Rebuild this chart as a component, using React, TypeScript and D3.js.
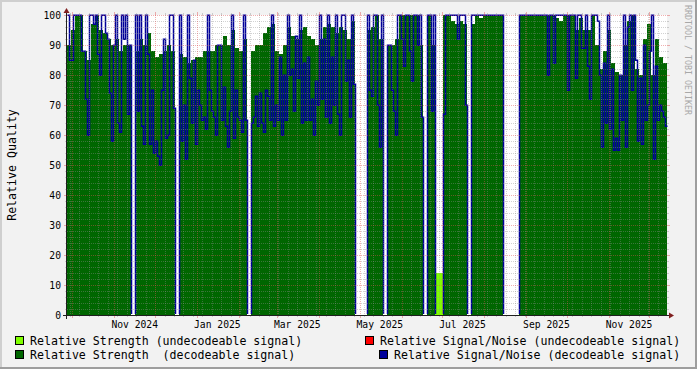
import React from 'react';
import * as d3 from 'd3';

// ---- data (one value per ~2.95-day bin, 150 bins from 2024-09-27 to 2025-12-14) ----
const strengthDecoded = [
  90, 95, 100, 100, 88, 85, 97, 100, 95, 94,
  92, 90, 92, 88, 90, 90, 0, 88, 92, 90,
  94, 88, 86, 87, 88, 90, 88, 0, 87, 86,
  84, 85, 86, 86, 88, 88, 88, 90, 90, 93,
  90, 95, 89, 88, 92, 0, 88, 90, 90, 94,
  96, 97, 88, 87, 90, 96, 93, 92, 95, 96,
  93, 92, 90, 92, 96, 97, 96, 94, 96, 95,
  92, 98, 0, 0, 0, 95, 96, 100, 92, 0,
  90, 90, 92, 100, 100, 100, 100, 100, 90, 0,
  100, 90, 0, 0, 100, 100, 98, 97, 98, 97,
  0, 97, 100, 99, 100, 100, 100, 100, 100, 0,
  0, 0, 0, 100, 100, 100, 100, 100, 100, 100,
  100, 100, 99, 98, 100, 100, 100, 95, 99, 95,
  95, 100, 90, 82, 88, 95, 84, 81, 80, 90,
  98, 100, 82, 80, 92, 97, 80, 92, 86, 84,
];

const strengthUndecoded = [
  0, 0, 0, 0, 0, 0, 0, 0, 0, 0,
  0, 0, 0, 0, 0, 0, 0, 0, 0, 0,
  0, 0, 0, 0, 0, 0, 0, 0, 0, 0,
  0, 0, 0, 0, 0, 0, 0, 0, 0, 0,
  0, 0, 0, 0, 0, 0, 0, 0, 0, 0,
  0, 0, 0, 0, 0, 0, 0, 0, 0, 0,
  0, 0, 0, 0, 0, 0, 0, 0, 0, 0,
  0, 0, 0, 0, 0, 0, 0, 0, 0, 0,
  0, 0, 0, 0, 0, 0, 0, 0, 0, 0,
  0, 0, 14, 14, 0, 0, 0, 0, 0, 0,
  0, 0, 0, 0, 0, 0, 0, 0, 0, 0,
  0, 0, 0, 0, 0, 0, 0, 0, 0, 0,
  0, 0, 0, 0, 0, 0, 0, 0, 0, 0,
  0, 0, 0, 0, 0, 0, 0, 0, 0, 0,
  0, 0, 0, 0, 0, 0, 0, 0, 0, 0,
];

// two samples per bin
const snrDecoded = [
  100, 85, 85, 100, 100, 100, 100, 88, 88, 72, 60, 100, 100, 97, 100, 87, 80, 100, 100, 94,
  92, 74, 58, 90, 100, 64, 61, 100, 92, 100, 67, 90, 0, 0, 100, 68, 100, 63, 57, 100,
  87, 57, 75, 54, 58, 53, 50, 75, 92, 59, 60, 100, 100, 69, 0, 0, 100, 58, 70, 52,
  100, 79, 64, 85, 57, 75, 70, 65, 66, 62, 100, 75, 68, 66, 60, 90, 90, 65, 76, 63,
  56, 68, 100, 59, 75, 66, 65, 61, 100, 65, 0, 0, 64, 66, 73, 63, 74, 64, 61, 75,
  73, 65, 100, 63, 70, 65, 86, 60, 80, 65, 100, 80, 82, 68, 93, 79, 100, 64, 84, 65,
  86, 65, 72, 60, 78, 70, 100, 72, 92, 66, 100, 64, 86, 70, 100, 67, 60, 100, 100, 78,
  85, 66, 100, 77, 0, 0, 0, 0, 0, 0, 100, 75, 73, 100, 100, 70, 56, 100, 0, 0,
  90, 90, 75, 68, 60, 100, 100, 92, 83, 100, 100, 88, 78, 100, 100, 90, 100, 66, 0, 0,
  100, 100, 68, 100, 0, 0, 0, 0, 67, 100, 100, 100, 100, 100, 100, 92, 100, 100, 100, 70,
  0, 0, 100, 100, 100, 100, 100, 100, 100, 100, 100, 100, 100, 100, 100, 100, 100, 100, 0, 0,
  0, 0, 0, 0, 0, 0, 100, 100, 100, 100, 100, 100, 100, 100, 100, 100, 100, 100, 100, 100,
  80, 100, 100, 84, 100, 100, 100, 100, 100, 100, 75, 100, 100, 100, 79, 100, 100, 89, 89, 100,
  83, 72, 100, 100, 100, 98, 80, 56, 84, 64, 100, 62, 82, 55, 59, 55, 80, 65, 100, 56,
  96, 100, 75, 100, 85, 58, 79, 57, 90, 65, 70, 88, 100, 52, 83, 65, 70, 68, 66, 63,
];

const xLabels = ['Nov 2024', 'Jan 2025', 'Mar 2025', 'May 2025', 'Jul 2025', 'Sep 2025', 'Nov 2025'];
const yLabels = [0, 10, 20, 30, 40, 50, 60, 70, 80, 90, 100];

const legendItems = [
  { label: 'Relative Strength (undecodeable signal)', color: '#80ff00', bx: 15, tx: 30, row: 0 },
  { label: 'Relative Signal/Noise (undecodeable signal)', color: '#ff0000', bx: 365, tx: 380, row: 0 },
  { label: 'Relative Strength  (decodeable signal)', color: '#006600', bx: 15, tx: 30, row: 1 },
  { label: 'Relative Signal/Noise (decodeable signal)', color: '#000099', bx: 379, tx: 394, row: 1 },
];

const W = 697, H = 369;
const X0 = 67, X1 = 667, Y0 = 315, Y1 = 15;
const tStart = new Date(2024, 8, 27);
const tEnd = new Date(2025, 11, 14);

const FONT = "'DejaVu Sans Mono', monospace";
const GRID = 'rgba(143,143,143,0.4)';
const MGRID = 'rgba(222,79,79,0.45)';

export default function App() {
  const x = d3.scaleTime().domain([tStart, tEnd]).range([X0, X1]);
  const y = d3.scaleLinear().domain([0, 100]).range([Y0, Y1]);
  const span = +tEnd - +tStart;
  const series = (vals: number[]) => {
    const pts: [Date, number][] = vals.map((v, i) => [new Date(+tStart + (span * i) / vals.length), v]);
    pts.push([tEnd, vals[vals.length - 1]]);
    return pts;
  };
  const area = d3
    .area<[Date, number]>()
    .x((d) => x(d[0]))
    .y0(y(0))
    .y1((d) => y(d[1]))
    .curve(d3.curveStepAfter);
  const line = d3
    .line<[Date, number]>()
    .x((d) => x(d[0]))
    .y((d) => y(d[1]))
    .curve(d3.curveStepAfter);

  const hMinor = d3.range(2, 101, 2).filter((v) => v % 10 !== 0);
  const hMajor = d3.range(10, 101, 10);
  const months = d3.timeMonth.range(tStart, tEnd);
  const monthSet = new Set(months.map((m) => +m));
  const weeks = d3.timeSunday.range(tStart, tEnd).filter((w) => !monthSet.has(+w));
  const parse = d3.timeParse('%b %Y');
  const labelPos = xLabels.map((l) => ({ l, t: d3.timeDay.offset(parse(l) as Date, 15) }));

  const px = (v: number) => Math.round(v) + 0.5;

  return (
    <svg width={W} height={H} style={{ position: 'absolute', left: 0, top: 0, display: 'block' }}>
      <defs>
        <clipPath id="plotClip">
          <rect x={X0 - 1} y={Y1 - 1} width={X1 - X0 + 2} height={Y0 - Y1} />
        </clipPath>
      </defs>
      <rect x={0} y={0} width={W} height={H} fill="#f2f2f2" />
      {/* shade frame */}
      <path d={`M0,0 H${W} V2 H2 V${H} H0 Z`} fill="#cfcfcf" />
      <path d={`M${W},${H} H0 V${H - 2} H${W - 2} V0 H${W} Z`} fill="#9e9e9e" />
      {/* canvas */}
      <rect x={X0} y={Y1} width={X1 - X0} height={Y0 - Y1} fill="#ffffff" />

      {/* data */}
      <path d={area(series(strengthUndecoded)) || ''} fill="#80ff00" />
      <path d={area(series(strengthDecoded)) || ''} fill="#006600" />
      <g clipPath="url(#plotClip)">
        <path
          d={line(series(snrDecoded)) || ''}
          fill="none"
          stroke="#000099"
          strokeWidth={1.5}
          transform="translate(0.5,0.25)"
        />
      </g>

      {/* grid */}
      <g shapeRendering="crispEdges" strokeWidth={1}>
        {hMinor.map((v) => (
          <g key={'hm' + v} stroke={GRID}>
            <line x1={X0} x2={X1} y1={px(y(v))} y2={px(y(v))} strokeDasharray="1,1" />
            <line x1={X0 - 2} x2={X0} y1={px(y(v))} y2={px(y(v))} />
            <line x1={X1} x2={X1 + 2} y1={px(y(v))} y2={px(y(v))} />
          </g>
        ))}
        {weeks.map((w) => (
          <g key={'vw' + +w} stroke={GRID}>
            <line x1={px(x(w))} x2={px(x(w))} y1={Y1} y2={Y0} strokeDasharray="1,1" />
            <line x1={px(x(w))} x2={px(x(w))} y1={Y0} y2={Y0 + 2} />
            <line x1={px(x(w))} x2={px(x(w))} y1={Y1 - 2} y2={Y1} />
          </g>
        ))}
        {hMajor.map((v) => (
          <g key={'hM' + v} stroke={MGRID}>
            <line x1={X0} x2={X1} y1={px(y(v))} y2={px(y(v))} strokeDasharray="1,1" />
            <line x1={X0 - 3} x2={X0} y1={px(y(v))} y2={px(y(v))} />
            <line x1={X1} x2={X1 + 3} y1={px(y(v))} y2={px(y(v))} />
          </g>
        ))}
        {months.map((m) => (
          <g key={'vM' + +m} stroke={MGRID}>
            <line x1={px(x(m))} x2={px(x(m))} y1={Y1} y2={Y0} strokeDasharray="1,1" />
            <line x1={px(x(m))} x2={px(x(m))} y1={Y0} y2={Y0 + 3} />
            <line x1={px(x(m))} x2={px(x(m))} y1={Y1 - 3} y2={Y1} />
          </g>
        ))}
      </g>

      {/* axes */}
      <g shapeRendering="crispEdges" stroke="#1f1f1f">
        <line x1={X0 - 4} x2={X1 + 4} y1={Y0 + 0.5} y2={Y0 + 0.5} />
        <line x1={X0 - 0.5} x2={X0 - 0.5} y1={Y0 + 4} y2={Y1 - 4} />
      </g>
      <polygon points={`${X1 + 2},${Y0 + 3.5} ${X1 + 2},${Y0 - 2.5} ${X1 + 7},${Y0 + 0.5}`} fill="#802020" />
      <polygon points={`${X0 - 3.5},${Y1 - 2} ${X0 + 2.5},${Y1 - 2} ${X0 - 0.5},${Y1 - 7}`} fill="#802020" />

      {/* y labels */}
      {yLabels.map((v) => (
        <text key={'yl' + v} x={61} y={y(v) + 3.6} fontFamily={FONT} fontSize={9.7} textAnchor="end" fill="#000">
          {v}
        </text>
      ))}
      {/* x labels */}
      {labelPos.map(({ l, t }) => (
        <text key={l} x={x(t)} y={327.5} fontFamily={FONT} fontSize={9.7} textAnchor="middle" fill="#000">
          {l}
        </text>
      ))}

      {/* axis title */}
      <text
        transform={`translate(15.5,165) rotate(-90)`}
        fontFamily={FONT}
        fontSize={11.6}
        textAnchor="middle"
        fill="#000"
      >
        Relative Quality
      </text>
      {/* watermark */}
      <text transform={`translate(685,5) rotate(90)`} fontFamily={FONT} fontSize={8.3} fill="#a8a8a8">
        RRDTOOL / TOBI OETIKER
      </text>

      {/* legend */}
      {legendItems.map((it) => {
        const base = it.row === 0 ? 344.5 : 358.5;
        return (
          <g key={it.label}>
            <rect
              x={it.bx + 0.5}
              y={base - 8}
              width={8}
              height={8}
              fill={it.color}
              stroke="#000"
              strokeWidth={1}
              shapeRendering="crispEdges"
            />
            <text x={it.tx} y={base} fontFamily={FONT} fontSize={11.6} fill="#000" style={{ whiteSpace: 'pre' }}>
              {it.label}
            </text>
          </g>
        );
      })}
    </svg>
  );
}
